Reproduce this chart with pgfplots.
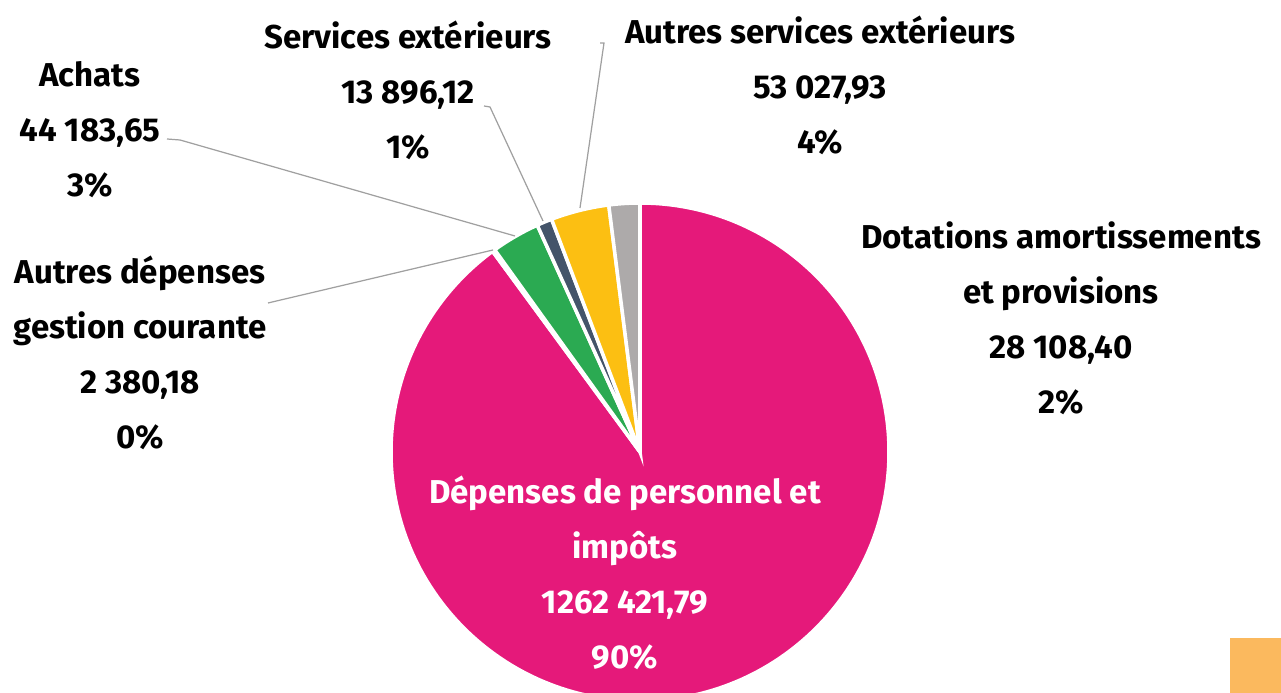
\documentclass[border=0pt]{standalone}
\usepackage{pgfplots}
\pgfplotsset{compat=1.18}
\usepackage{fontspec}
\setmainfont{Fira Sans}
\definecolor{pinkc}{RGB}{229,25,122}
\definecolor{greenc}{RGB}{43,170,82}
\definecolor{slatec}{RGB}{68,84,106}
\definecolor{yellowc}{RGB}{252,191,18}
\definecolor{greyc}{RGB}{173,170,170}
\definecolor{orangec}{RGB}{251,185,94}
\definecolor{leadc}{RGB}{160,160,160}
% values (euros)
\def\vPerso{1262421.79}
\def\vAutDep{2380.18}
\def\vAchats{44183.65}
\def\vServ{13896.12}
\def\vAutServ{53027.93}
\def\vDot{28108.40}
\pgfkeys{/pgf/fpu=true,/pgf/fpu/output format=fixed}
\pgfmathsetmacro\tot{\vPerso+\vAutDep+\vAchats+\vServ+\vAutServ+\vDot}
\pgfmathsetmacro\aA{90}
\pgfmathsetmacro\aB{\aA-360*\vPerso/\tot}
\pgfmathsetmacro\aC{\aB-360*\vAutDep/\tot}
\pgfmathsetmacro\aD{\aC-360*\vAchats/\tot}
\pgfmathsetmacro\aE{\aD-360*\vServ/\tot}
\pgfmathsetmacro\aF{\aE-360*\vAutServ/\tot}
\pgfmathsetmacro\aG{\aF-360*\vDot/\tot}
\pgfkeys{/pgf/fpu=false}
\def\R{24.9mm}
\newcommand\slice[3]{\fill[#1, draw=white, line width=1pt] (axis cs:640,241) -- ++(#2:\R) arc[start angle=#2, end angle=#3, radius=\R] -- cycle;}
\tikzset{lbl/.style={font=\fontsize{9.4}{15.65}\selectfont\bfseries, align=center, inner sep=0pt}}
\begin{document}
\begin{tikzpicture}
\useasboundingbox (0,0) rectangle (12.81cm,6.93cm);
\begin{axis}[
  at={(0,0)}, anchor=south west,
  width=12.81cm, height=6.93cm, scale only axis,
  xmin=0, xmax=1281, ymin=0, ymax=693,
  hide axis,
]
\slice{pinkc}{\aA}{\aB}
\slice{white}{\aB}{\aC}
\slice{greenc}{\aC}{\aD}
\slice{slatec}{\aD}{\aE}
\slice{yellowc}{\aE}{\aF}
\slice{greyc}{\aF}{\aG}
% leader lines
\draw[leadc, line width=0.35pt] (axis cs:167,554) -- (axis cs:180,553) -- (axis cs:515,457);
\draw[leadc, line width=0.35pt] (axis cs:484,587) -- (axis cs:490,586) -- (axis cs:543,472);
\draw[leadc, line width=0.35pt] (axis cs:600,650) -- (axis cs:604,650) -- (axis cs:580,485);
\draw[leadc, line width=0.35pt] (axis cs:268,390) -- (axis cs:493,443);
% labels
\node[lbl] at (axis cs:408,603) {Services extérieurs\\13 896,12\\1\%};
\node[lbl] at (axis cs:820,608) {Autres services extérieurs\\53 027,93\\4\%};
\node[lbl] at (axis cs:90,563) {Achats\\44 183,65\\3\%};
\node[lbl] at (axis cs:140,340) {Autres dépenses\\gestion courante\\2 380,18\\0\%};
\node[lbl] at (axis cs:1061,375) {Dotations amortissements\\et provisions\\28 108,40\\2\%};
\node[lbl, text=white] at (axis cs:625,120) {Dépenses de personnel et\\impôts\\1262 421,79\\90\%};
\fill[orangec] (axis cs:1230,0) rectangle (axis cs:1281,55);
\end{axis}
\end{tikzpicture}
\end{document}
